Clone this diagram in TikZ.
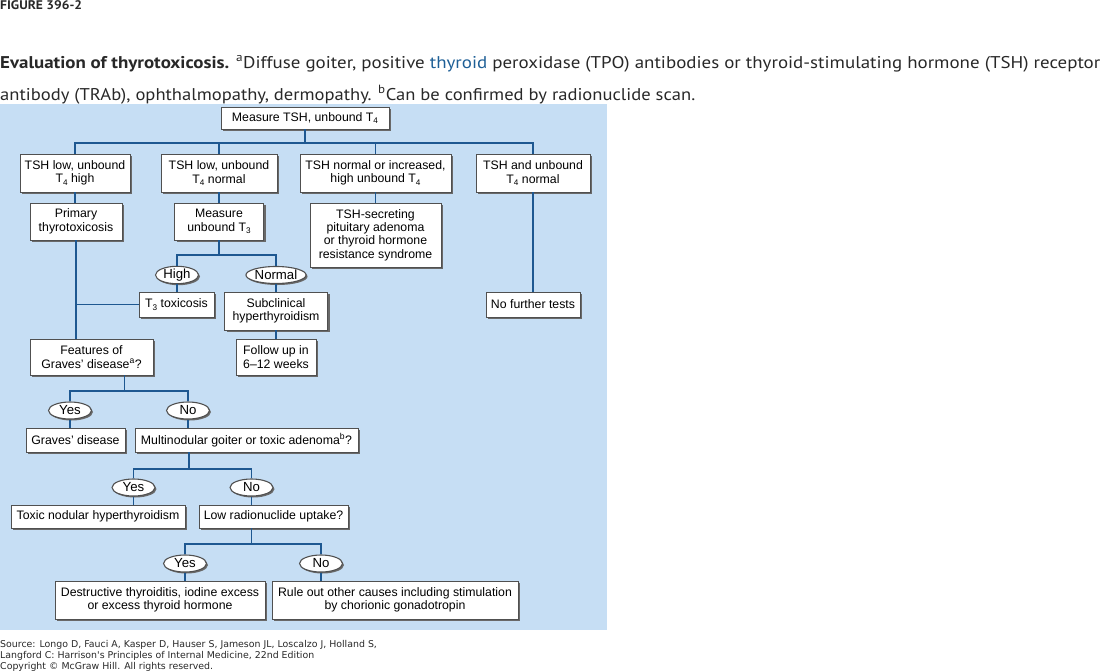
\documentclass[tikz,border=0pt]{standalone}
\usepackage{fontspec}
\usepackage{graphicx}
\setmainfont{PT Sans}
\newfontfamily\diagfont{Liberation Sans}
\newfontfamily\footfont{DejaVu Sans}
\usetikzlibrary{shapes.geometric,shadows}
\definecolor{bgblue}{RGB}{198,222,244}
\definecolor{lineblue}{RGB}{30,88,145}
\definecolor{boxgray}{RGB}{80,80,80}
\definecolor{shadowgray}{RGB}{105,105,105}
\definecolor{linkblue}{RGB}{30,95,150}
\definecolor{captext}{RGB}{40,40,40}
\newcommand\lowsub[1]{\raisebox{-0.35ex}{\fontsize{8.2}{8.2}\selectfont #1}}
\tikzset{
  boxs/.style={draw=boxgray, fill=white, line width=0.9pt, align=center, inner sep=0pt,
    font=\diagfont\fontsize{12.3}{13.4}\selectfont,
    drop shadow={shadow xshift=2pt, shadow yshift=-2pt, fill=shadowgray, opacity=1}},
  oval/.style={ellipse, draw=boxgray, fill=white, line width=1.1pt, inner sep=0pt,
    minimum width=43pt, minimum height=17pt,
    font=\diagfont\fontsize{13.2}{13.4}\selectfont,
    drop shadow={shadow xshift=1.5pt, shadow yshift=-1.5pt, fill=shadowgray, opacity=1}},
  conn/.style={draw=lineblue, line width=1.6pt},
  footline/.style={anchor=base west, inner sep=0pt, text=captext, font=\footfont\fontsize{9.4}{11}\selectfont},
}
\begin{document}
\begin{tikzpicture}[x=1pt,y=-1pt]
\useasboundingbox (0,0) rectangle (1101,672);
\fill[bgblue] (0,104) rectangle (607,630);

% header and caption
\node[anchor=base west, inner sep=0pt, text=captext] (fig) at (0,9) {\resizebox{82pt}{\height}{\fontsize{12.5}{13}\selectfont\bfseries FIGURE 396-2}};
\node[anchor=base west, inner sep=0pt, text=captext] (cap1) at (0,68) {\resizebox{1100pt}{\height}{\fontsize{17}{20}\selectfont\textbf{Evaluation of thyrotoxicosis.} \textsuperscript{a}Diffuse goiter, positive \textcolor{linkblue}{thyroid} peroxidase (TPO) antibodies or thyroid-stimulating hormone (TSH) receptor}};
\node[anchor=base west, inner sep=0pt, text=captext] (cap2) at (0,100) {\resizebox{695pt}{\height}{\fontsize{17}{20}\selectfont antibody (TRAb), ophthalmopathy, dermopathy. \textsuperscript{b}Can be confirmed by radionuclide scan.}};

% footer
\node[footline] (foot1) at (0,647) {Source: Longo D, Fauci A, Kasper D, Hauser S, Jameson JL, Loscalzo J, Holland S,};
\node[footline] (foot2) at (0,658) {Langford C: Harrison's Principles of Internal Medicine, 22nd Edition};
\node[footline] (foot3) at (0,669) {Copyright \textcopyright{} McGraw Hill. All rights reserved.};

% boxes
\node[boxs, minimum width=168pt, minimum height=22pt] (top) at (305,118) {Measure TSH, unbound T\lowsub{4}};
\node[boxs, minimum width=110pt, minimum height=38pt] (r1a) at (75,173) {TSH low, unbound\\T\lowsub{4} high};
\node[boxs, minimum width=116pt, minimum height=38pt] (r1b) at (219,173) {TSH low, unbound\\T\lowsub{4} normal};
\node[boxs, minimum width=151pt, minimum height=38pt] (r1c) at (375.5,173) {TSH normal or increased,\\high unbound T\lowsub{4}};
\node[boxs, minimum width=114pt, minimum height=38pt] (r1d) at (533,173) {TSH and unbound\\T\lowsub{4} normal};

\node[boxs, minimum width=92pt, minimum height=37pt] (primary) at (76,221.5) {Primary\\thyrotoxicosis};
\node[boxs, minimum width=89pt, minimum height=37pt] (measT3) at (219,221.5) {Measure\\unbound T\lowsub{3}};
\node[boxs, minimum width=131pt, minimum height=64pt] (tshsec) at (375.5,235) {TSH-secreting\\pituitary adenoma\\or thyroid hormone\\resistance syndrome};
\node[boxs, minimum width=94pt, minimum height=25pt] (nofurther) at (533,304.5) {No further tests};

\node[oval] (high) at (177,275) {High};
\node[oval, minimum width=59pt] (normal) at (276,275) {Normal};
\node[boxs, minimum width=75pt, minimum height=25pt] (t3tox) at (176.5,304.5) {T\lowsub{3} toxicosis};
\node[boxs, minimum width=103pt, minimum height=38pt] (subclin) at (276,311) {Subclinical\\hyperthyroidism};
\node[boxs, minimum width=80pt, minimum height=36pt] (followup) at (276,357) {Follow up in\\6–12 weeks};
\node[boxs, minimum width=123pt, minimum height=36pt] (features) at (91.5,357) {Features of\\Graves’ disease\textsuperscript{a}?};

\node[oval] (yes1) at (70,410.5) {Yes};
\node[oval] (no1) at (188,410.5) {No};
\node[boxs, minimum width=99pt, minimum height=24pt] (graves) at (75.5,440) {Graves’ disease};
\node[boxs, minimum width=223pt, minimum height=24pt] (multi) at (246.5,440) {Multinodular goiter or toxic adenoma\textsuperscript{b}?};

\node[oval] (yes2) at (133.5,487.5) {Yes};
\node[oval] (no2) at (251.5,487.5) {No};
\node[boxs, minimum width=174pt, minimum height=23pt] (toxic) at (98,516.5) {Toxic nodular hyperthyroidism};
\node[boxs, minimum width=149pt, minimum height=23pt] (lowrad) at (273.5,516.5) {Low radionuclide uptake?};

\node[oval] (yes3) at (185,563.5) {Yes};
\node[oval] (no3) at (321,563.5) {No};
\node[boxs, minimum width=210pt, minimum height=38pt] (destr) at (160,600) {Destructive thyroiditis, iodine excess\\or excess thyroid hormone};
\node[boxs, minimum width=246pt, minimum height=38pt] (ruleout) at (395,600) {Rule out other causes including stimulation\\by chorionic gonadotropin};

% connectors
\coordinate (j0) at (305,143);
\draw[conn] (top.south) -- (j0);
\draw[conn] (r1a.north) |- (j0);
\draw[conn] (r1d.north) |- (j0);
\draw[conn] (r1b.north) -- (r1b.north |- j0);
\draw[conn] (r1c.north) -- (r1c.north |- j0);
\draw[conn] (r1a.south) -- (r1a.south |- primary.north);
\draw[conn] (r1b.south) -- (r1b.south |- measT3.north);
\draw[conn] (r1c.south) -- (r1c.south |- tshsec.north);
\draw[conn] (r1d.south) -- (r1d.south |- nofurther.north);

\coordinate (j1) at (219,255);
\draw[conn] (measT3.south) -- (j1);
\draw[conn] (high.north) |- (j1) -| (normal.north);
\draw[conn] (high.south) -- (high.south |- t3tox.north);
\draw[conn] (normal.south) -- (normal.south |- subclin.north);
\draw[conn] (subclin.south) -- (subclin.south |- followup.north);
\draw[conn] (primary.south) -- (primary.south |- features.north);
\draw[conn] (t3tox.west) -- (t3tox.west -| primary.south);

\coordinate (j2) at (124.5,391);
\draw[conn] (features.south -| j2) -- (j2);
\draw[conn] (yes1.north) |- (j2) -| (no1.north);
\draw[conn] (yes1.south) -- (yes1.south |- graves.north);
\draw[conn] (no1.south) -- (no1.south |- multi.north);

\coordinate (j3) at (189,469);
\draw[conn] (multi.south -| j3) -- (j3);
\draw[conn] (yes2.north) |- (j3) -| (no2.north);
\draw[conn] (yes2.south) -- (yes2.south |- toxic.north);
\draw[conn] (no2.south) -- (no2.south |- lowrad.north);

\coordinate (j4) at (251.5,544);
\draw[conn] (lowrad.south -| j4) -- (j4);
\draw[conn] (yes3.north) |- (j4) -| (no3.north);
\draw[conn] (yes3.south) -- (yes3.south |- destr.north);
\draw[conn] (no3.south) -- (no3.south |- ruleout.north);
\end{tikzpicture}
\end{document}
